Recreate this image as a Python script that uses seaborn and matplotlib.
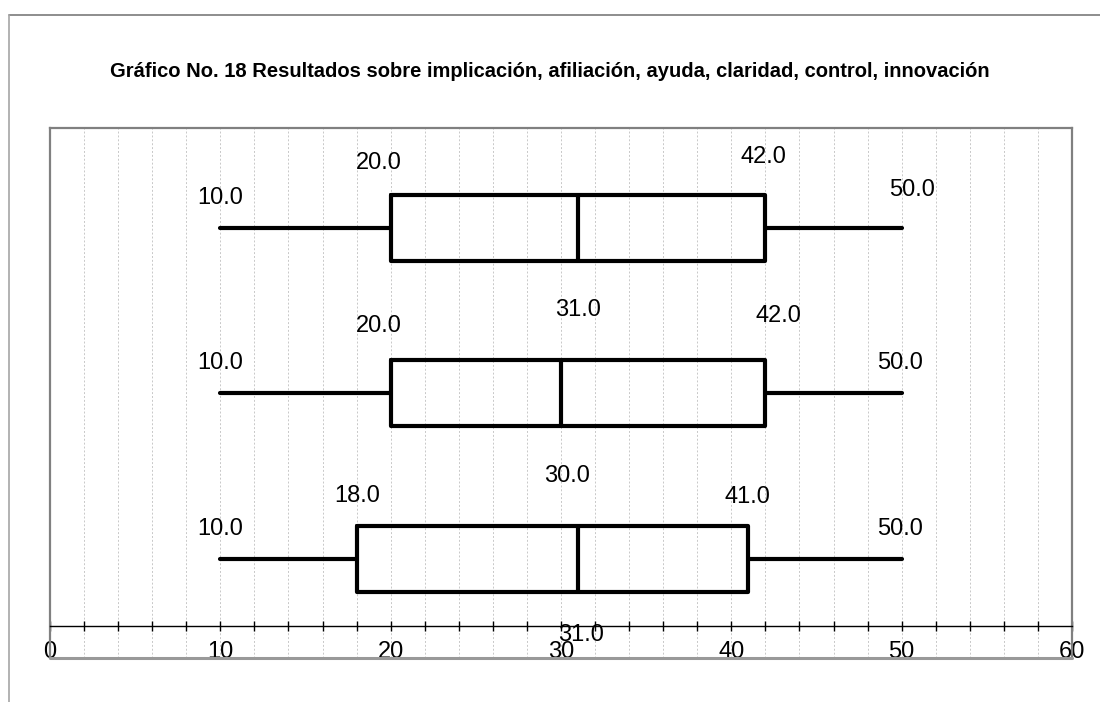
import numpy as np
import pandas as pd
import matplotlib
matplotlib.use("Agg")
import matplotlib.pyplot as plt
import seaborn as sns
from matplotlib.lines import Line2D
from matplotlib.ticker import MultipleLocator, FixedLocator

# ---------------- data ----------------
title = "Gráfico No. 18 Resultados sobre implicación, afiliación, ayuda, claridad, control, innovación"
groups = ["Serie 1", "Serie 2", "Serie 3"]          # top to bottom
minimum = [10, 10, 10]
q1 = [20, 20, 18]
median = [31, 30, 31]
q3 = [42, 42, 41]
maximum = [50, 50, 50]
x_ticks = [0, 10, 20, 30, 40, 50, 60]

# long table: five-number summary per group (5 values -> exact quartiles)
rows = []
for g, a, b, c, d, e in zip(groups, minimum, q1, median, q3, maximum):
    for v in (a, b, c, d, e):
        rows.append({"grupo": g, "valor": v})
df = pd.DataFrame(rows)

# ---------------- style ----------------
sns.set_theme(style="white")
plt.rcParams["font.family"] = ["Liberation Sans", "DejaVu Sans"]
plt.rcParams["text.color"] = "black"

W, H = 1100, 702
fig = plt.figure(figsize=(W / 100, H / 100), dpi=100)
ax = fig.add_axes([50 / W, 1 - 658 / H, (1072 - 50) / W, (658 - 128) / H])

lw = 3.0
sns.boxplot(
    data=df, x="valor", y="grupo", order=groups, orient="h",
    whis=(0, 100), width=0.4, fill=False, color="black", linewidth=lw,
    showcaps=False, ax=ax,
    boxprops=dict(color="black", linewidth=lw),
    whiskerprops=dict(color="black", linewidth=lw, solid_capstyle="round"),
    medianprops=dict(color="black", linewidth=lw),
)

ax.set_xlim(0, 60)
ax.set_ylim(2.600, -0.6024)
ax.set_xlabel("")
ax.set_ylabel("")
ax.set_yticks([])

# grid (every 2 units)
ax.xaxis.set_major_locator(FixedLocator(x_ticks))
ax.xaxis.set_minor_locator(MultipleLocator(2))
ax.set_axisbelow(True)
ax.grid(axis="x", which="both", color="#c8c8c8", linestyle=(0, (2, 2)), linewidth=0.7)

# frame
for s in ("left", "right", "top"):
    ax.spines[s].set_color("#808080")
    ax.spines[s].set_linewidth(1.6)
ax.spines["bottom"].set_position(("data", 2.4066))
ax.spines["bottom"].set_color("black")
ax.spines["bottom"].set_linewidth(1.0)
ax.plot([0, 1], [0, 0], transform=ax.transAxes, color="#999999", lw=2.2, clip_on=False, zorder=5)

ax.tick_params(axis="x", which="both", direction="inout", length=7.2, width=1.0,
               color="black", bottom=True, labelsize=17, pad=7.5, labelcolor="black")
ax.tick_params(axis="y", left=False)

# data labels (offsets in pixels, from Excel's layout)
px = 0.72
lab_kw = dict(textcoords="offset points", ha="center", va="baseline",
              fontsize=17, color="black", annotation_clip=False)
min_off = [(0, -32), (0, -32), (0, -32)]
q1_off = [(-12, -67), (-12, -69), (1, -65)]
q3_off = [(-1.5, -73), (13.5, -79), (-0.5, -64)]
max_off = [(10, -40), (-1.5, -32), (-1.5, -32)]
med_off = [(0, -85), (6, -85), (3, -91)]
for i in range(len(groups)):
    for vals, offs in ((minimum, min_off), (q1, q1_off), (q3, q3_off), (maximum, max_off)):
        dx, dy = offs[i]
        ax.annotate(f"{vals[i]:.1f}", xy=(vals[i], i), xytext=(dx * px, -(dy + 8) * px), **lab_kw)
    # median label drawn one row lower (as in the source chart)
    dx, dy = med_off[i]
    ax.annotate(f"{median[i]:.1f}", xy=(median[i], i + 1), xytext=(dx * px, -(dy + 8) * px), **lab_kw)

# title
fig.text(550 / W, 1 - 77 / H, title, ha="center", va="baseline", fontsize=14.5,
         fontweight="bold", color="black")

# outer chart-area border (top and left visible)
fig.add_artist(Line2D([9 / W, 1], [1 - 15 / H, 1 - 15 / H], color="#7a7a7a", lw=1.2))
fig.add_artist(Line2D([9 / W, 9 / W], [0, 1 - 15 / H], color="#a6a6a6", lw=1.2))

fig.savefig("out.png", dpi=100)
